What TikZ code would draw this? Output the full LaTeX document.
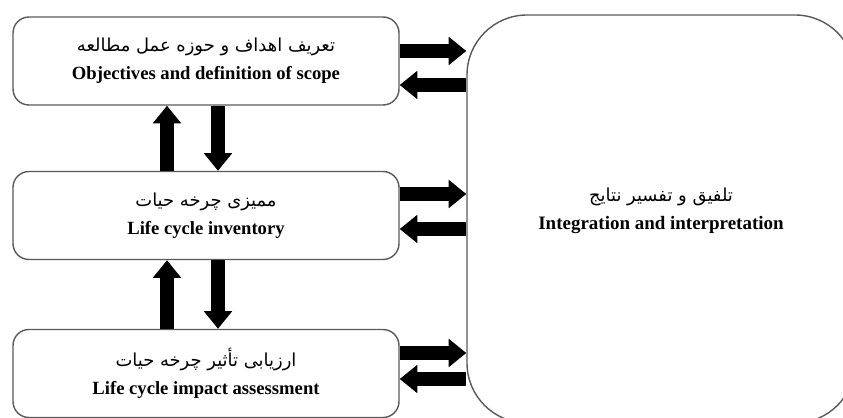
\documentclass[tikz,border=0pt]{standalone}
\usepackage{fontspec}
\setmainfont{Liberation Serif}
\newfontfamily\persianfont[Script=Arabic]{DejaVu Sans}
\TeXXeTstate=1
\usetikzlibrary{arrows.meta}
\newcommand{\fatext}[1]{{\persianfont\mdseries\fontsize{10.2}{16}\selectfont\beginR #1\endR}}
\begin{document}
\begin{tikzpicture}[scale=1.0,
  stagebox/.style={draw=black!65,line width=0.8pt,rounded corners=0.32cm,
    minimum width=7.72cm,minimum height=1.76cm,align=center,
    font=\fontsize{10.6}{16}\selectfont\bfseries},
  flowarrow/.style={line width=7.6pt,-{Triangle[width=15.5pt,length=10pt]}}]
  \useasboundingbox (0,0) rectangle (16.86,8.34);
  \clip (0,0) rectangle (16.86,8.34);
  \node[stagebox] (obj) at (4.12,7.12) {\fatext{تعریف اهداف و حوزه عمل مطالعه}\\Objectives and definition of scope};
  \node[stagebox] (inv) at (4.12,4.03) {\fatext{ممیزی چرخه حیات}\\Life cycle inventory};
  \node[stagebox] (lcia) at (4.12,0.87) {\fatext{ارزیابی تأثیر چرخه حیات}\\Life cycle impact assessment};
  \node[draw=black!65,line width=0.8pt,rounded corners=1.2cm,
    minimum width=7.76cm,minimum height=8.16cm] (integ) at (13.22,3.96) {};
  \node[align=center,font=\fontsize{10.8}{16}\selectfont\bfseries] (integtext) at (13.22,4.12)
    {\fatext{تلفیق و تفسیر نتایج}\\Integration and interpretation};
  % stages <-> interpretation
  \draw[flowarrow] ([yshift=0.2cm]obj.east) -- ([yshift=0.2cm]obj.east -| integ.west);
  \draw[flowarrow] ([yshift=-0.48cm]obj.east -| integ.west) -- ([yshift=-0.48cm]obj.east);
  \draw[flowarrow] ([yshift=0.43cm]inv.east) -- ([yshift=0.43cm]inv.east -| integ.west);
  \draw[flowarrow] ([yshift=-0.27cm]inv.east -| integ.west) -- ([yshift=-0.27cm]inv.east);
  \draw[flowarrow] ([yshift=0.41cm]lcia.east) -- ([yshift=0.41cm]lcia.east -| integ.west);
  \draw[flowarrow] ([yshift=-0.11cm]lcia.east -| integ.west) -- ([yshift=-0.11cm]lcia.east);
  % between stages
  \draw[flowarrow] ([xshift=-0.78cm]inv.north) -- ([xshift=-0.78cm]obj.south);
  \draw[flowarrow] ([xshift=0.24cm]obj.south) -- ([xshift=0.24cm]inv.north);
  \draw[flowarrow] ([xshift=-0.78cm]lcia.north) -- ([xshift=-0.78cm]inv.south);
  \draw[flowarrow] ([xshift=0.24cm]inv.south) -- ([xshift=0.24cm]lcia.north);
\end{tikzpicture}
\end{document}
